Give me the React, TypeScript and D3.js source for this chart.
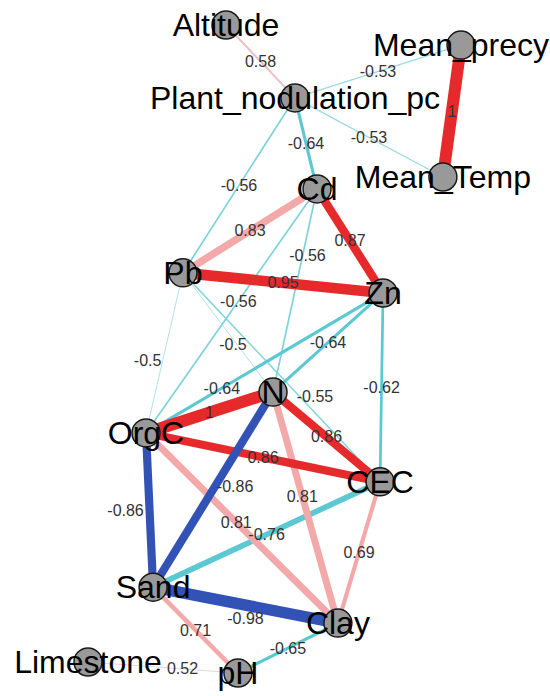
import React, { useRef, useEffect } from 'react';
import * as d3 from 'd3';

// variables (nodes) and their layout coordinates (qgraph-style, -1..1)
const nodeNames = ['Altitude', 'Mean_precy', 'Plant_nodulation_pc', 'Mean_Temp', 'Cd', 'Pb', 'Zn', 'N', 'OrgC', 'CEC', 'Sand', 'Clay', 'Limestone', 'pH'];
const layoutX = [-0.26, 1, 0.11, 0.903, 0.228, -0.491, 0.582, -0.008, -0.689, 0.566, -0.651, 0.34, -1, -0.196];
const layoutY = [1, 0.938, 0.775, 0.531, 0.494, 0.235, 0.173, -0.133, -0.259, -0.41, -0.735, -0.846, -0.966, -1];

// correlations shown as edges
const edgeFrom = ['Altitude', 'Plant_nodulation_pc', 'Plant_nodulation_pc', 'Mean_precy', 'Plant_nodulation_pc', 'Plant_nodulation_pc', 'Cd', 'Cd', 'Pb', 'Cd', 'Cd', 'Pb', 'Pb', 'Pb', 'Zn', 'Zn', 'Zn', 'N', 'OrgC', 'N', 'N', 'OrgC', 'N', 'OrgC', 'CEC', 'CEC', 'Sand', 'Sand', 'Clay', 'Limestone'];
const edgeTo = ['Plant_nodulation_pc', 'Mean_precy', 'Mean_Temp', 'Mean_Temp', 'Cd', 'Pb', 'Pb', 'Zn', 'Zn', 'N', 'OrgC', 'OrgC', 'N', 'CEC', 'OrgC', 'N', 'CEC', 'OrgC', 'CEC', 'CEC', 'Sand', 'Sand', 'Clay', 'Clay', 'Sand', 'Clay', 'Clay', 'pH', 'pH', 'pH'];
const edgeWeight = [0.58, -0.53, -0.53, 1, -0.64, -0.56, 0.83, 0.87, 0.95, -0.56, -0.56, -0.5, -0.5, -0.55, -0.64, -0.64, -0.62, 1, 0.86, 0.86, -0.86, -0.86, 0.81, 0.81, -0.76, 0.69, -0.98, 0.71, -0.65, 0.52];

// where a few edge labels sit (fraction along the edge + nudge)
const labelTweak: Record<string, { t?: number; dx?: number; dy?: number }> = {
    'Cd-N': { t: 0.33, dx: 5 },
    'Cd-OrgC': { t: 0.46 },
    'Pb-OrgC': { t: 0.55, dx: -15 },
    'Pb-N': { t: 0.6, dx: -4 },
    'Pb-CEC': { t: 0.67, dy: -16 },
    'Zn-OrgC': { t: 0.68 },
    'N-Sand': { dx: 22, dy: -3 },
    'OrgC-Sand': { dx: -24 },
    'N-Clay': { t: 0.45 },
    'OrgC-Clay': { t: 0.47 },
    'Sand-Clay': { dy: 13 },
    'Limestone-pH': { t: 0.63 },
};

const App = () => {
    const svgRef = useRef<SVGSVGElement>(null);

    useEffect(() => {
        const width = 550;
        const height = 696;

        const svg = d3.select(svgRef.current)
            .attr('width', width)
            .attr('height', height)
            .style('position', 'absolute')
            .style('left', 0)
            .style('top', 0)
            .style('background', 'white');

        svg.selectAll('*').remove();

        const x = d3.scaleLinear().domain([-1, 1]).range([88, 461]);
        const y = d3.scaleLinear().domain([-1, 1]).range([673, 25]);

        const nodes = nodeNames.map((name, i) => ({ name, x: x(layoutX[i]), y: y(layoutY[i]) }));
        const byName = new Map(nodes.map(n => [n.name, n]));

        const edges = edgeWeight.map((w, i) => ({
            source: byName.get(edgeFrom[i])!,
            target: byName.get(edgeTo[i])!,
            w,
            key: edgeFrom[i] + '-' + edgeTo[i],
        })).sort((a, b) => Math.abs(a.w) - Math.abs(b.w));

        // edge width grows with |r| above the 0.5 cut
        const widthScale = d3.scalePow().exponent(1.3).domain([0, 0.5]).range([1, 12]);
        const posFade = d3.scaleLinear<string>().domain([0.5, 0.65]).range(['#e4dede', '#f3a8a9']).clamp(true);
        const negFade = d3.scaleLinear<string>().domain([0.5, 0.6]).range(['#b3e2e8', '#5bc8d2']).clamp(true);
        const color = (w: number) => {
            const a = Math.abs(w);
            if (w > 0) return a >= 0.85 ? '#e62a2b' : posFade(a);
            return a >= 0.85 ? '#3352b5' : negFade(a);
        };

        // edges
        svg.append('g')
            .selectAll('line')
            .data(edges)
            .enter()
            .append('line')
            .attr('x1', d => d.source.x)
            .attr('y1', d => d.source.y)
            .attr('x2', d => d.target.x)
            .attr('y2', d => d.target.y)
            .attr('stroke', d => color(d.w))
            .attr('stroke-width', d => widthScale(Math.abs(d.w) - 0.5));

        // edge labels
        svg.append('g')
            .selectAll('text')
            .data(edges)
            .enter()
            .append('text')
            .attr('x', d => {
                const tw = labelTweak[d.key] || {};
                const t = tw.t ?? 0.5;
                return d.source.x + (d.target.x - d.source.x) * t + (tw.dx ?? 0);
            })
            .attr('y', d => {
                const tw = labelTweak[d.key] || {};
                const t = tw.t ?? 0.5;
                return d.source.y + (d.target.y - d.source.y) * t + (tw.dy ?? 0);
            })
            .attr('text-anchor', 'middle')
            .attr('dominant-baseline', 'central')
            .attr('font-family', '"Liberation Sans", Arial, sans-serif')
            .attr('font-size', 16)
            .attr('fill', '#333')
            .text(d => String(d.w));

        // nodes
        svg.append('g')
            .selectAll('circle')
            .data(nodes)
            .enter()
            .append('circle')
            .attr('cx', d => d.x)
            .attr('cy', d => d.y)
            .attr('r', 14)
            .attr('fill', '#999999')
            .attr('stroke', '#1a1a1a')
            .attr('stroke-width', 1.5);

        // node labels
        svg.append('g')
            .selectAll('text')
            .data(nodes)
            .enter()
            .append('text')
            .attr('x', d => d.x)
            .attr('y', d => d.y)
            .attr('dy', '0.34em')
            .attr('text-anchor', 'middle')
            .attr('font-family', '"Liberation Sans", Arial, sans-serif')
            .attr('font-size', 32)
            .attr('fill', '#000')
            .text(d => d.name);
    }, []);

    return <svg ref={svgRef}></svg>;
};

export default App;
